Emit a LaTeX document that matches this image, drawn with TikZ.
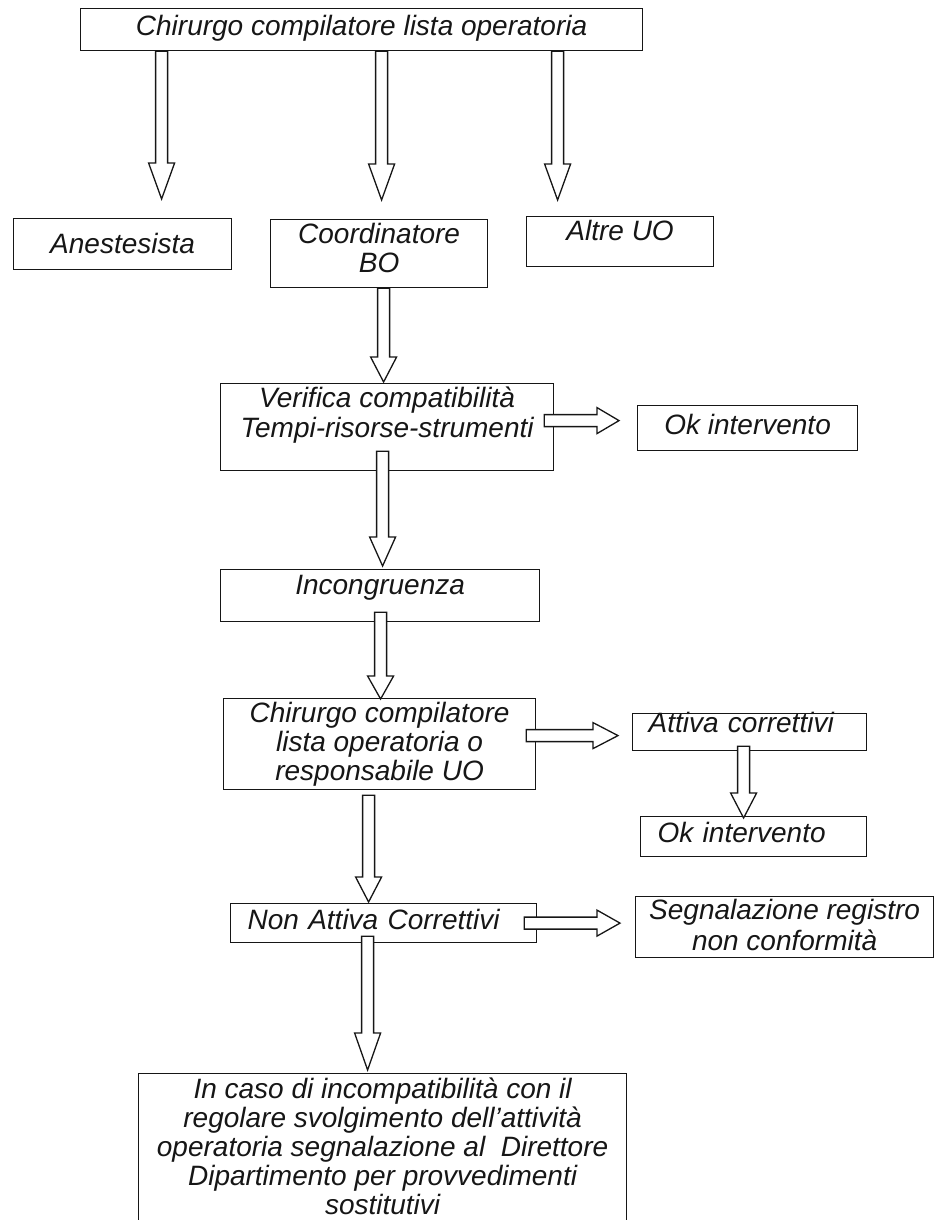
\documentclass[tikz,border=0pt]{standalone}
\usepackage{fontspec}
\setmainfont{Liberation Sans}
\usetikzlibrary{calc}
\usepackage{xcolor}
\definecolor{Ink}{HTML}{161616}
\def\fathl{28}

\begin{document}
\begin{tikzpicture}[x=1pt,y=-1pt,
  font=\fontsize{28}{29}\selectfont\itshape,
  box/.style n args={3}{draw=Ink,line width=1.2pt,inner sep=0pt,anchor=north west,align=center,text=Ink,minimum width=#1pt,text height=#2pt,text depth=#3pt},
  lbox/.style n args={4}{box={0}{#2}{#3},align=left,inner xsep=#4pt,text width=#1pt},
  fathl/.code={\def\fathl{#1}},
  fatarrow/.style={draw=Ink,fill=white,line width=1.3pt,to path={
    let \p1=(\tikztostart), \p2=(\tikztotarget),
        \n1={veclen(\x2-\x1,\y2-\y1)}, \n2={(\x2-\x1)/\n1}, \n3={(\y2-\y1)/\n1}, \n4={\n1-\fathl} in
    ({\x1-\n3*6pt},{\y1+\n2*6pt}) -- ({\x1+\n2*\n4*1pt-\n3*6pt},{\y1+\n3*\n4*1pt+\n2*6pt})
    -- ({\x1+\n2*\n4*1pt-\n3*13pt},{\y1+\n3*\n4*1pt+\n2*13pt}) -- (\p2)
    -- ({\x1+\n2*\n4*1pt+\n3*13pt},{\y1+\n3*\n4*1pt-\n2*13pt})
    -- ({\x1+\n2*\n4*1pt+\n3*6pt},{\y1+\n3*\n4*1pt-\n2*6pt}) -- ({\x1+\n3*6pt},{\y1-\n2*6pt}) -- cycle}}]
\useasboundingbox (0,0) rectangle (934,1220);

% boxes
\node[box={562}{27}{15}] (top) at (80,8) {Chirurgo compilatore lista operatoria};
\node[box={218}{35}{16}] (ane) at (13,218) {Anestesista};
\node[box={217}{53}{15}] (coo) at (270,219) {Coordinatore\\BO};
\node[box={187}{24}{26}] (alt) at (526,216) {Altre UO};
\node[box={333}{54}{33},font=\fontsize{28}{30}\selectfont\itshape] (ver) at (220,383) {Verifica compatibilità\\Tempi-risorse-strumenti};
\node[box={220}{29}{16}] (ok1) at (637,405) {Ok intervento};
\node[box={319}{25}{27}] (inc) at (220,569) {Incongruenza};
\node[box={312}{82}{9}] (chi) at (223,698) {Chirurgo compilatore\\lista operatoria o\\responsabile UO};
\node[lbox={202}{19}{18}{16}] (att) at (632,713) {Attiva correttivi};
\node[lbox={192}{26}{14}{17}] (ok2) at (640,816) {Ok intervento};
\node[lbox={272}{26}{13}{17}] (non) at (230,903) {Non Attiva Correttivi};
\node[box={298}{54}{7},font=\fontsize{28}{31}\selectfont\itshape] (seg) at (635,896) {Segnalazione registro\\non conformità};
\node[box={488}{141}{26}] (fin) at (138,1073) {In caso di incompatibilità con il\\regolare svolgimento dell’attività\\operatoria segnalazione al~ Direttore\\Dipartimento per provvedimenti\\sostitutivi};

% block arrows
\draw[fatarrow,fathl=36] ($(top.south)+(-200,0)$) to ($(ane.north)+(39,-19)$);
\draw[fatarrow,fathl=36] ($(top.south)+(20,0)$) to ($(coo.north)+(2.5,-19)$);
\draw[fatarrow,fathl=36] ($(top.south)+(196,0)$) to ($(alt.north)+(-62.5,-16)$);
\draw[fatarrow,fathl=25] ($(coo.south)+(4.5,0)$) to ($(ver.north)+(-3.5,-1)$);
\draw[fatarrow,fathl=22] ($(ver.east)+(-10,-6.5)$) to ($(ok1.west)+(-18,-7.5)$);
\draw[fatarrow,fathl=29] ($(ver.south)+(-4.5,-20)$) to ($(inc.north)+(2.5,-3)$);
\draw[fatarrow,fathl=23] ($(inc.south)+(0.5,-10)$) to ($(chi.north)+(1,1)$);
\draw[fatarrow,fathl=25] ($(chi.east)+(-10,-8.5)$) to ($(att.west)+(-14,3.5)$);
\draw[fatarrow,fathl=25] ($(att.south)+(-6,-5)$) to ($(ok2.north)+(-10,2)$);
\draw[fatarrow,fathl=25] ($(chi.south)+(-11,5)$) to ($(non.north)+(-15,-1)$);
\draw[fatarrow,fathl=23] ($(non.east)+(-13,0)$) to ($(seg.west)+(-15,-4)$);
\draw[fatarrow,fathl=37] ($(non.south)+(-16,-7)$) to ($(fin.north)+(-15,-3)$);
\end{tikzpicture}
\end{document}
